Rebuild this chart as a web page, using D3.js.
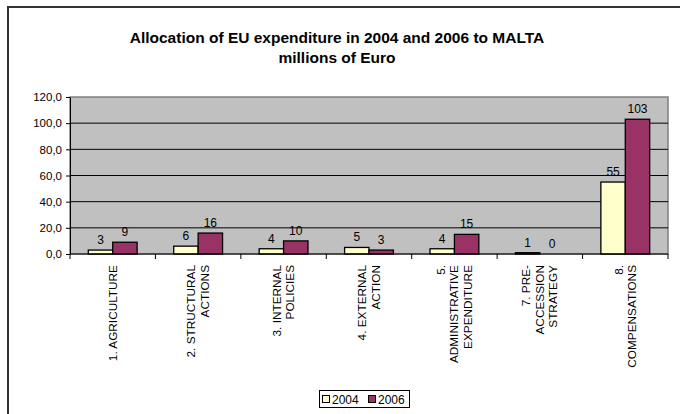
<!DOCTYPE html>
<html><head><meta charset="utf-8">
<script src="https://cdn.jsdelivr.net/npm/d3@7"></script>
<style>
body{margin:0;background:#fff;}
svg{display:block;font-family:Arial,"Liberation Sans",sans-serif;}
</style></head>
<body><svg id="c" width="680" height="414"></svg>
<script>
const categories = ["1. AGRICULTURE","2. STRUCTURAL ACTIONS","3. INTERNAL POLICIES","4. EXTERNAL ACTION","5. ADMINISTRATIVE EXPENDITURE","7. PRE-ACCESSION STRATEGY","8. COMPENSATIONS"];
const categoryLines = [["1. AGRICULTURE"],["2. STRUCTURAL","ACTIONS"],["3. INTERNAL","POLICIES"],["4. EXTERNAL","ACTION"],["5.","ADMINISTRATIVE","EXPENDITURE"],["7. PRE-","ACCESSION","STRATEGY"],["8.","COMPENSATIONS"]];
const seriesNames = ["2004","2006"];
const values2004 = [3,6,4,5,4,1,55];
const values2006 = [9,16,10,3,15,0,103];
const yTicks = [0,20,40,60,80,100,120];
const colors = ["#FFFFCC","#993366"];

const svg = d3.select("#c");
// outer frame
svg.append("path").attr("d","M8,414 L8,7 L680,7").attr("fill","none").attr("stroke","#333").attr("stroke-width",2);

// title
const title = svg.append("text").attr("text-anchor","middle").attr("font-weight","bold").attr("font-size",15.5);
title.append("tspan").attr("x",337).attr("y",43).text("Allocation of EU expenditure in 2004 and 2006 to MALTA");
title.append("tspan").attr("x",337).attr("y",63).text("millions of Euro");

const L=70,R=668,T=97,B=254;
const x = d3.scaleBand().domain(categories).range([L,R]).paddingInner(0).paddingOuter(0);
const y = d3.scaleLinear().domain([0,120]).range([B,T]);
const xs = d3.scaleBand().domain(seriesNames).range([0,x.bandwidth()]).paddingInner(0).paddingOuter(0.75);

svg.append("rect").attr("x",L).attr("y",T).attr("width",R-L).attr("height",B-T).attr("fill","#C0C0C0").attr("stroke","#808080").attr("stroke-width",1.5);

// gridlines
svg.append("g").selectAll("line").data(yTicks.filter(d=>d>0&&d<120)).join("line")
  .attr("x1",L).attr("x2",R).attr("y1",d=>y(d)).attr("y2",d=>y(d)).attr("stroke","#000").attr("stroke-width",1);

// y axis
const fmt = d=>d3.format(".1f")(d).replace(".",",");
const ya = svg.append("g").attr("transform",`translate(${L},0)`).call(d3.axisLeft(y).tickValues(yTicks).tickSize(4).tickSizeOuter(0).tickFormat(fmt));
ya.select(".domain").attr("stroke","#000");
ya.selectAll("text").attr("font-size",11.5).attr("font-family","Arial,'Liberation Sans',sans-serif").attr("fill","#000").attr("dx","-1");

// bars
const data = categories.map((c,i)=>({c, vals:[values2004[i],values2006[i]]}));
const groups = svg.append("g").selectAll("g").data(data).join("g").attr("transform",d=>`translate(${x(d.c)},0)`);
groups.selectAll("rect").data(d=>d.vals.map((v,j)=>({v,s:seriesNames[j],j}))).join("rect")
  .attr("x",d=>xs(d.s)).attr("width",xs.bandwidth())
  .attr("y",d=>y(d.v)).attr("height",d=>B-y(d.v))
  .attr("fill",d=>colors[d.j]).attr("stroke",d=>d.v>0?"#000":"none").attr("stroke-width",1.3);
groups.selectAll("text").data(d=>d.vals.map((v,j)=>({v,s:seriesNames[j],j}))).join("text")
  .attr("x",d=>xs(d.s)+xs.bandwidth()/2).attr("y",d=>y(d.v)-6)
  .attr("text-anchor","middle").attr("font-size",12).text(d=>d3.format(".0f")(d.v));

// x axis
svg.append("line").attr("x1",L).attr("x2",R).attr("y1",B).attr("y2",B).attr("stroke","#000").attr("stroke-width",1);
const bounds = categories.map(c=>x(c)).concat([R]);
svg.append("g").selectAll("line").data(bounds).join("line")
  .attr("x1",d=>d).attr("x2",d=>d).attr("y1",B).attr("y2",B+5).attr("stroke","#000");

// category labels
categoryLines.forEach((lines,i)=>{
  const cx = x(categories[i])+x.bandwidth()/2;
  const n = lines.length;
  lines.forEach((ln,k)=>{
    const px = cx + (k-(n-1)/2)*13.5 + 4;
    svg.append("text").attr("transform",`translate(${px},265) rotate(-90)`)
      .attr("text-anchor","end").attr("font-size",11.8).text(ln);
  });
});

// legend
const lg = svg.append("g");
lg.append("rect").attr("x",319.5).attr("y",390.5).attr("width",90).attr("height",17).attr("fill","#fff").attr("stroke","#000");
seriesNames.forEach((s,j)=>{
  const ox = 322 + j*46;
  lg.append("rect").attr("x",ox+0.5).attr("y",395.5).attr("width",7).attr("height",7).attr("fill",colors[j]).attr("stroke","#000");
  lg.append("text").attr("x",ox+10).attr("y",403.5).attr("font-size",12).text(s);
});
</script></body></html>
